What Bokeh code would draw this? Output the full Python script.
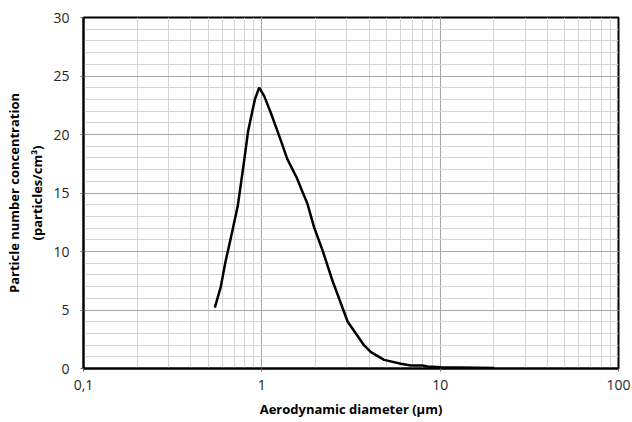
from bokeh.plotting import figure
from bokeh.models import Range1d, LogTicker, SingleIntervalTicker, CustomJSTickFormatter
from bokeh.embed import file_html
from bokeh.resources import INLINE

# Aerodynamic diameter (µm) and particle number concentration (particles/cm³)
diameter = [0.545, 0.589, 0.625, 0.680, 0.733, 0.790, 0.838, 0.914, 0.966, 1.03,
            1.12, 1.27, 1.39, 1.57, 1.68, 1.80, 1.96, 2.19, 2.49, 3.03,
            3.75, 4.09, 4.85, 6.02, 6.85, 7.96, 8.5, 10.1, 20.1]
concentration = [5.2, 7.0, 9.1, 11.6, 13.9, 17.4, 20.3, 23.0, 24.0, 23.3,
                 21.9, 19.6, 17.9, 16.3, 15.2, 14.1, 12.1, 10.1, 7.5, 4.0,
                 1.97, 1.4, 0.74, 0.40, 0.26, 0.26, 0.17, 0.1, 0.05]

x_ticks = [0.1, 1, 10, 100]
x_tick_labels = ["0,1", "1", "10", "100"]
y_ticks = [0, 5, 10, 15, 20, 25, 30]

FONT = "Open Sans"

p = figure(width=632, height=422, x_axis_type="log",
           x_range=Range1d(0.1, 100), y_range=Range1d(0, 30),
           output_backend="svg", toolbar_location=None,
           min_border_left=83, min_border_right=14, min_border_top=17, min_border_bottom=54)

p.line(diameter, concentration, line_color="black", line_width=2.5)

p.xaxis.ticker = LogTicker(num_minor_ticks=10, desired_num_ticks=4)
p.xaxis.formatter = CustomJSTickFormatter(
    args=dict(tvals=x_ticks, tlabels=x_tick_labels),
    code="""
    for (let i = 0; i < tvals.length; i++) {
        if (Math.abs(Math.log10(tick) - Math.log10(tvals[i])) < 1e-6) return tlabels[i];
    }
    return '';
    """)
p.yaxis.ticker = SingleIntervalTicker(interval=5, num_minor_ticks=5)

p.xaxis.axis_label = "Aerodynamic diameter (µm)"
p.yaxis.axis_label = "Particle number concentration\n(particles/cm³)"

for ax in (p.xaxis, p.yaxis):
    ax.axis_label_text_font = FONT
    ax.axis_label_text_font_style = "bold"
    ax.axis_label_text_font_size = "13px"
    ax.axis_label_text_color = "black"
    ax.axis_label_text_line_height = 1.3
    ax.major_label_text_font = FONT
    ax.major_label_text_font_size = "14px"
    ax.major_label_text_color = "#262626"
    ax.axis_line_color = "black"
    ax.axis_line_width = 2
    ax.major_tick_line_color = "#666666"
    ax.major_tick_in = 0
    ax.major_tick_out = 3
    ax.minor_tick_line_color = None

p.xaxis.axis_label_standoff = 7
p.yaxis.axis_label_standoff = 4
p.xaxis.major_label_standoff = 7
p.yaxis.major_label_standoff = 10

p.xgrid.grid_line_color = "#a6a6a6"
p.ygrid.grid_line_color = "#a6a6a6"
p.xgrid.minor_grid_line_color = "#d4d4d4"
p.ygrid.minor_grid_line_color = "#d4d4d4"
p.xgrid.grid_line_width = 1
p.ygrid.grid_line_width = 1

p.outline_line_color = "black"
p.outline_line_width = 2
p.outline_line_alpha = 1

open("out.html", "w").write(file_html(p, INLINE))
